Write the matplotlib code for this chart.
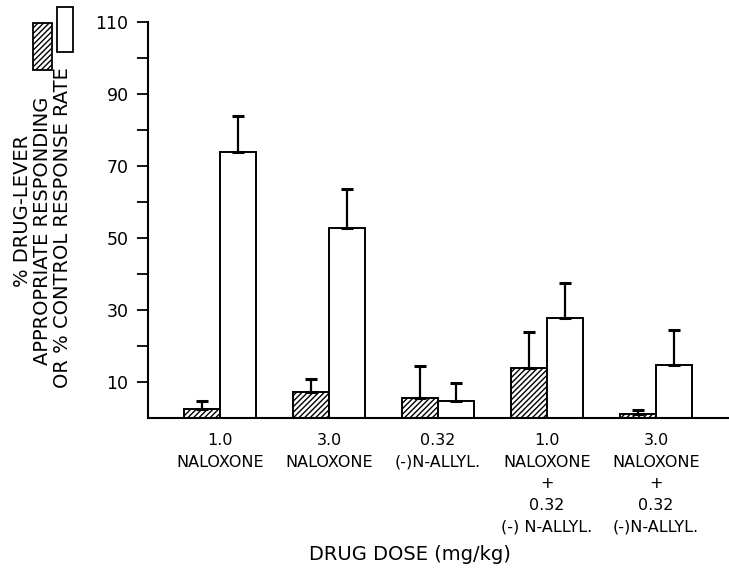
import numpy as np
import matplotlib.pyplot as plt
from matplotlib.patches import Rectangle

# values (% units)
groups = ["1.0\nNALOXONE", "3.0\nNALOXONE", "0.32\n(-)N-ALLYL.",
          "1.0\nNALOXONE\n+\n0.32\n(-) N-ALLYL.", "3.0\nNALOXONE\n+\n0.32\n(-)N-ALLYL."]
drug_lever = [2.5, 7.2, 5.5, 13.8, 1.0]
drug_lever_err = [2.3, 3.7, 9.0, 10.1, 1.3]
response_rate = [74.0, 52.7, 4.7, 27.7, 14.7]
response_rate_err = [9.9, 11.0, 4.9, 9.8, 9.7]
yticks = [10, 20, 30, 40, 50, 60, 70, 80, 90, 100, 110]
ytick_labels = ["10", "", "30", "", "50", "", "70", "", "90", "", "110"]

plt.rcParams['font.family'] = 'DejaVu Sans'
plt.rcParams['hatch.linewidth'] = 1.0

W, H = 729, 571
fig = plt.figure(figsize=(W / 100, H / 100), dpi=100)
ax = fig.add_axes([148 / W, 1 - 418 / H, 1 - 148 / W, (418 - 22) / H])

x = np.arange(len(groups))
bw = 0.33
ax.bar(x - bw / 2, drug_lever, bw, facecolor='white', edgecolor='black',
       hatch='//////', linewidth=1.4)
ax.bar(x + bw / 2, response_rate, bw, facecolor='white', edgecolor='black',
       linewidth=1.4)
ax.errorbar(x - bw / 2, drug_lever, yerr=[np.zeros(5), drug_lever_err], fmt='none',
            ecolor='black', elinewidth=1.6, capsize=4.5, capthick=2.2)
ax.errorbar(x + bw / 2, response_rate, yerr=[np.zeros(5), response_rate_err], fmt='none',
            ecolor='black', elinewidth=1.6, capsize=4.5, capthick=2.2)

ax.set_xlim(-0.66, 4.67)
ax.set_ylim(0, 110)
ax.set_yticks(yticks)
ax.set_yticklabels(ytick_labels, fontsize=12.5)
ax.set_xticks(x)
ax.set_xticklabels(groups, fontsize=11.5, linespacing=1.55)
ax.tick_params(axis='x', length=0, pad=11)
ax.tick_params(axis='y', length=8, width=1.3, pad=6)
for s in ['top', 'right']:
    ax.spines[s].set_visible(False)
ax.spines['left'].set_linewidth(1.5)
ax.spines['bottom'].set_linewidth(1.5)

fig.text(410 / W, 1 - 555 / H, "DRUG DOSE (mg/kg)", fontsize=14, ha='center', va='center')

# y label, three lines with the legend boxes at their ends
fig.text(23 / W, 1 - 211 / H, "% DRUG-LEVER", fontsize=14, rotation=90,
         ha='center', va='center')
fig.text(43 / W, 1 - 97 / H, "APPROPRIATE RESPONDING", fontsize=14, rotation=90,
         ha='center', va='top')
fig.text(63 / W, 1 - 67 / H, "OR % CONTROL RESPONSE RATE", fontsize=14, rotation=90,
         ha='center', va='top')
fig.patches.append(Rectangle((33 / W, 1 - 70 / H), 19 / W, 47 / H, transform=fig.transFigure,
                             facecolor='white', edgecolor='black', hatch='//////', linewidth=1.3))
fig.patches.append(Rectangle((57 / W, 1 - 52 / H), 16 / W, 45 / H, transform=fig.transFigure,
                             facecolor='white', edgecolor='black', linewidth=1.3))

fig.savefig("out.png", dpi=100)
